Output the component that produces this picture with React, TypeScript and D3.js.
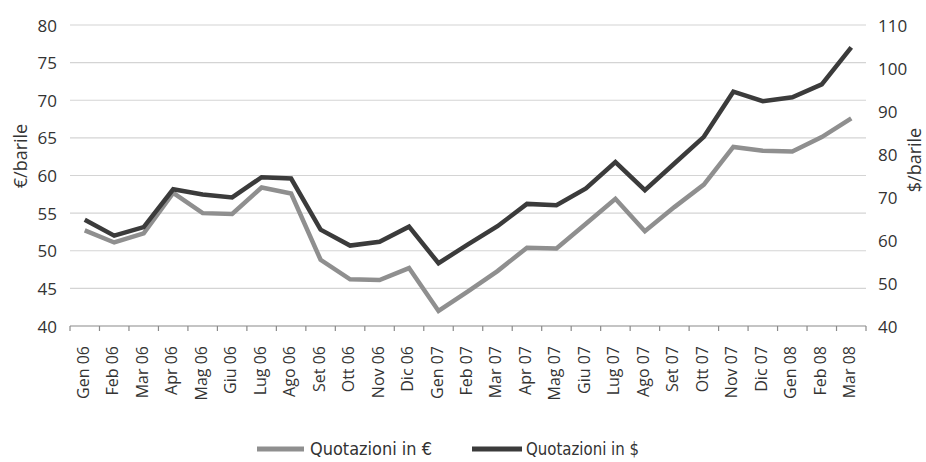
import React from "react";
import * as d3 from "d3";

const categories = [
  "Gen 06", "Feb 06", "Mar 06", "Apr 06", "Mag 06", "Giu 06", "Lug 06", "Ago 06", "Set 06",
  "Ott 06", "Nov 06", "Dic 06", "Gen 07", "Feb 07", "Mar 07", "Apr 07", "Mag 07", "Giu 07",
  "Lug 07", "Ago 07", "Set 07", "Ott 07", "Nov 07", "Dic 07", "Gen 08", "Feb 08", "Mar 08",
];

const euroValues = [
  52.7, 51.1, 52.3, 57.7, 55.0, 54.9, 58.4, 57.6, 48.8,
  46.2, 46.1, 47.7, 42.0, 44.6, 47.3, 50.4, 50.3, 53.6,
  56.9, 52.6, 55.8, 58.8, 63.8, 63.3, 63.2, 65.1, 67.6,
];

const dollarValues = [
  64.7, 61.0, 63.0, 71.8, 70.6, 69.9, 74.6, 74.3, 62.4,
  58.7, 59.6, 63.1, 54.6, 59.0, 63.2, 68.4, 68.1, 72.0,
  78.1, 71.6, 77.8, 84.0, 94.5, 92.3, 93.2, 96.2, 104.8,
];

const leftTicks = [40, 45, 50, 55, 60, 65, 70, 75, 80];
const rightTicks = [40, 50, 60, 70, 80, 90, 100, 110];

const seriesNames = ["Quotazioni in €", "Quotazioni in $"];

const W = 926;
const H = 462;
const X0 = 70;
const X1 = 866;
const YT = 25;
const YB = 326;

const EURO_COLOR = "#8f8f8f";
const DOLLAR_COLOR = "#3b3b3b";
const TEXT_COLOR = "#333333";
const FONT = "'Open Sans', 'Liberation Sans', Arial, sans-serif";
const NARROW = "'Liberation Sans Narrow', 'DejaVu Sans Condensed', 'Roboto Condensed', 'Open Sans', sans-serif";

export default function App() {
  const x = d3.scaleBand<string>().domain(categories).range([X0, X1]).padding(0);
  const yL = d3.scaleLinear().domain([40, 80]).range([YB, YT]);
  const yR = d3.scaleLinear().domain([40, 110]).range([YB, YT]);
  const cx = (c: string) => (x(c) as number) + x.bandwidth() / 2;

  const euroLine = d3
    .line<number>()
    .x((_, i) => cx(categories[i]))
    .y((d) => yL(d));
  const dollarLine = d3
    .line<number>()
    .x((_, i) => cx(categories[i]))
    .y((d) => yR(d));

  const boundaries = categories.map((c) => x(c) as number).concat([X1]);

  return (
    <svg
      width={W}
      height={H}
      style={{ position: "absolute", left: 0, top: 0, background: "#fff" }}
      fontFamily={FONT}
    >
      {/* gridlines */}
      {leftTicks.slice(1).map((t) => (
        <line key={"g" + t} x1={X0} x2={X1} y1={yL(t)} y2={yL(t)} stroke="#d4d4d4" strokeWidth={1.2} />
      ))}
      {/* x axis */}
      <line x1={X0} x2={X1} y1={YB} y2={YB} stroke="#8a8a8a" strokeWidth={1.2} />
      {boundaries.map((b, i) => (
        <line key={"t" + i} x1={b} x2={b} y1={YB} y2={YB + 5} stroke="#8a8a8a" strokeWidth={1.2} />
      ))}
      {/* left ticks */}
      {leftTicks.map((t) => (
        <text
          key={"l" + t}
          x={57}
          y={yL(t)}
          textAnchor="end"
          dominantBaseline="central"
          fontSize={17}
          fill={TEXT_COLOR}
        >
          {t}
        </text>
      ))}
      {/* right ticks */}
      {rightTicks.map((t) => (
        <text
          key={"r" + t}
          x={878}
          y={yR(t)}
          textAnchor="start"
          dominantBaseline="central"
          fontSize={17}
          fill={TEXT_COLOR}
        >
          {t}
        </text>
      ))}
      {/* axis titles */}
      <text
        transform={`translate(20,156) rotate(-90)`}
        textAnchor="middle"
        dominantBaseline="central"
        fontSize={18}
        fill={TEXT_COLOR}
      >
        €/barile
      </text>
      <text
        transform={`translate(914,160) rotate(-90)`}
        textAnchor="middle"
        dominantBaseline="central"
        fontSize={18}
        fill={TEXT_COLOR}
      >
        $/barile
      </text>
      {/* x labels */}
      {categories.map((c) => (
        <text
          key={"x" + c}
          transform={`translate(${cx(c) - 2},${YB + 20}) rotate(-90)`}
          textAnchor="end"
          dominantBaseline="central"
          fontSize={16}
          fill={TEXT_COLOR}
        >
          {c}
        </text>
      ))}
      {/* lines */}
      <path d={euroLine(euroValues) || ""} fill="none" stroke={EURO_COLOR} strokeWidth={4.5} strokeLinejoin="miter" />
      <path d={dollarLine(dollarValues) || ""} fill="none" stroke={DOLLAR_COLOR} strokeWidth={4.5} strokeLinejoin="miter" />
      {/* legend */}
      <line x1={257} x2={304} y1={449} y2={449} stroke={EURO_COLOR} strokeWidth={5} />
      <text x={310} y={455} fontFamily={NARROW} fontSize={18} fill={TEXT_COLOR} textLength={122} lengthAdjust="spacingAndGlyphs">
        {seriesNames[0]}
      </text>
      <line x1={472} x2={522} y1={449} y2={449} stroke={DOLLAR_COLOR} strokeWidth={5} />
      <text x={526} y={455} fontFamily={NARROW} fontSize={18} fill={TEXT_COLOR} textLength={113} lengthAdjust="spacingAndGlyphs">
        {seriesNames[1]}
      </text>
    </svg>
  );
}
